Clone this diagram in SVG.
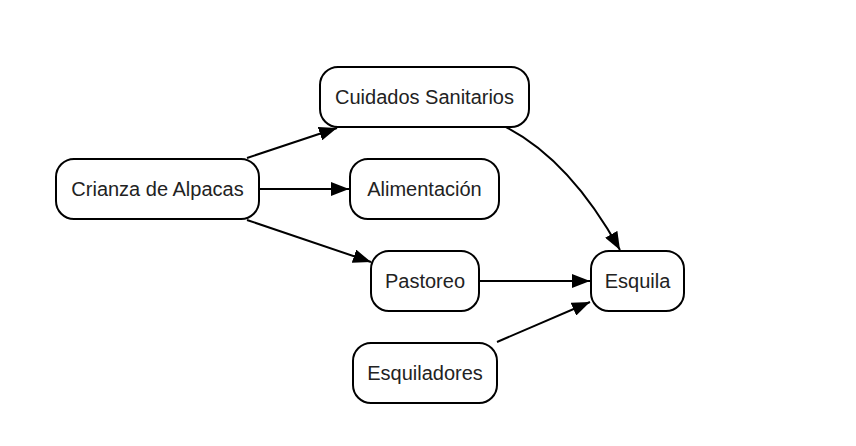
<svg xmlns="http://www.w3.org/2000/svg" width="856" height="446" viewBox="0 0 856 446">
<style>
.node rect{fill:#fff;stroke:#000;stroke-width:2}
.node text{font-family:"Liberation Sans",Arial,sans-serif;font-size:20px;fill:#222;text-anchor:middle;dominant-baseline:central}
.edges path{fill:none;stroke:#000;stroke-width:2}
</style>
<defs>
<marker id="arr" markerUnits="userSpaceOnUse" markerWidth="20" markerHeight="14" refX="18" refY="7" orient="auto">
<path d="M0,0 L18,7 L0,14 Z" fill="#000"/>
</marker>
</defs>
<rect width="856" height="446" fill="#fff"/>
<g class="edges">
<path d="M247,158 L337,128" marker-end="url(#arr)"/>
<path d="M259,189 L349,189" marker-end="url(#arr)"/>
<path d="M247,220 L371,262" marker-end="url(#arr)"/>
<path d="M506,127 Q570,160 620,250" marker-end="url(#arr)"/>
<path d="M479,281 L590,281" marker-end="url(#arr)"/>
<path d="M497,342 L590,302" marker-end="url(#arr)"/>
</g>
<g id="n-crianza" class="node"><rect x="56" y="159" width="203" height="60" rx="18"/><text x="157.5" y="189">Crianza de Alpacas</text></g>
<g id="n-cuidados" class="node"><rect x="320" y="67" width="209" height="60" rx="18"/><text x="424.5" y="97">Cuidados Sanitarios</text></g>
<g id="n-alimentacion" class="node"><rect x="350" y="159" width="149" height="60" rx="18"/><text x="424.5" y="189">Alimentación</text></g>
<g id="n-pastoreo" class="node"><rect x="371" y="251" width="108" height="60" rx="18"/><text x="425" y="281">Pastoreo</text></g>
<g id="n-esquila" class="node"><rect x="591" y="251" width="93" height="60" rx="18"/><text x="637.5" y="281">Esquila</text></g>
<g id="n-esquiladores" class="node"><rect x="353" y="343" width="144" height="60" rx="18"/><text x="425" y="373">Esquiladores</text></g>
</svg>
